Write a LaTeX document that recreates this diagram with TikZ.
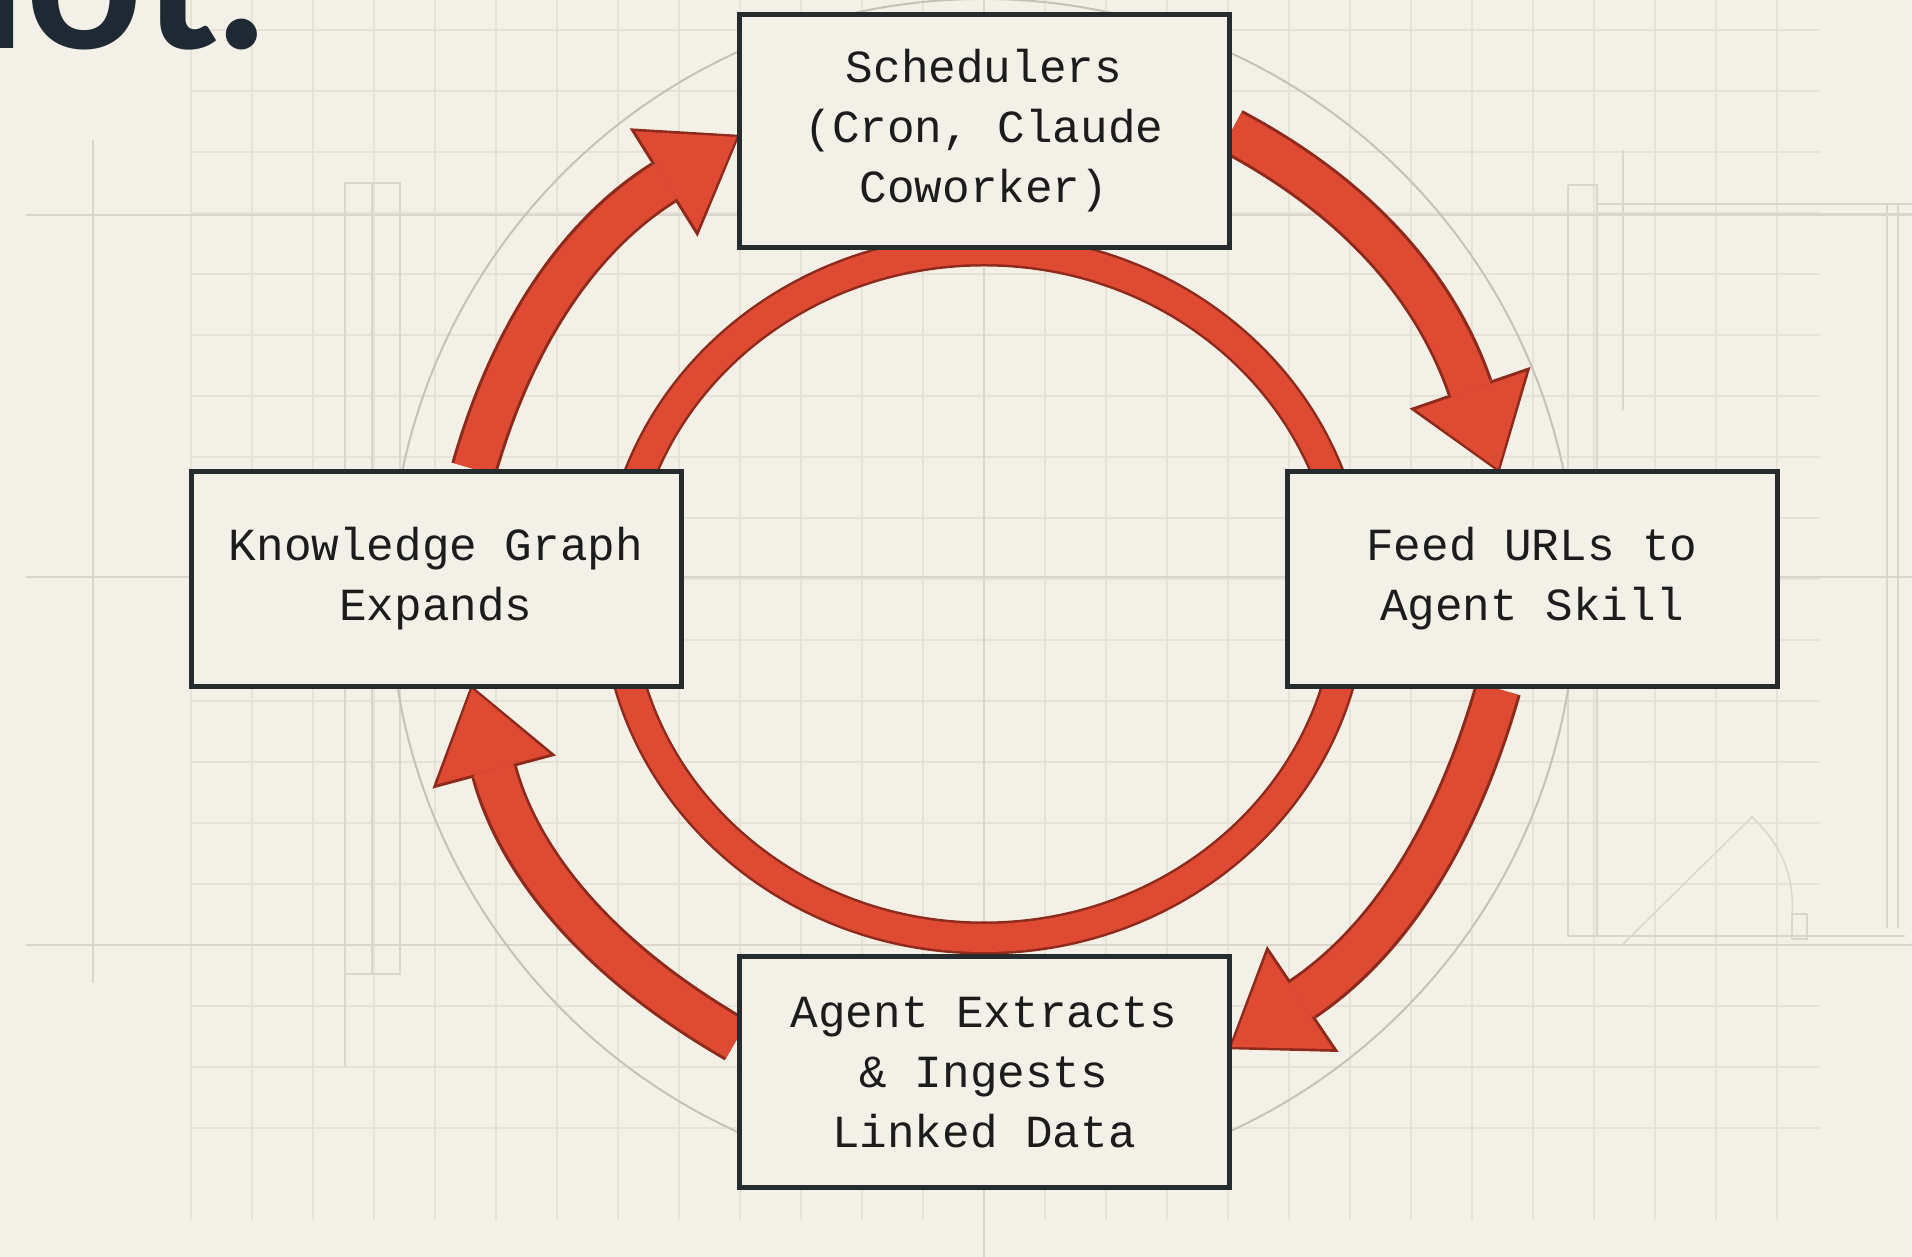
\documentclass[tikz,border=0pt]{standalone}
\usepackage{fontspec}
\setmonofont{Liberation Mono}
\newfontfamily\headfont{Lato}
\usetikzlibrary{arrows.meta}

\definecolor{paper}{HTML}{F3F1E7}
\definecolor{gridc}{HTML}{E6E2D7}
\definecolor{guidec}{HTML}{DAD6CB}
\definecolor{ringgray}{HTML}{C6C2B8}
\definecolor{flame}{HTML}{DF4A33}
\definecolor{rimred}{HTML}{8E2A1C}
\definecolor{boxline}{HTML}{262B2E}
\definecolor{ink}{HTML}{1C1C1C}
\definecolor{headink}{HTML}{1F2933}

\pgfdeclarelayer{sheet}
\pgfdeclarelayer{back}
\pgfsetlayers{sheet,back,main}

\tikzset{
  stage/.style={draw=boxline,line width=5pt,fill=paper,minimum width=490pt,inner sep=0pt,
    align=center,text=ink,font=\ttfamily\fontsize{46}{60}\selectfont},
  rim/.style={draw=rimred,line width=47pt,shorten >=-4pt,
    -{Triangle[width=128pt,length=90pt,line width=0pt]}},
  body/.style={draw=flame,line width=41pt,
    -{Triangle[width=117pt,length=83pt,line width=0pt]}},
  gridline/.style={draw=gridc,line width=1.5pt},
  guide/.style={draw=guidec,line width=1.5pt}
}

\begin{document}
\begin{tikzpicture}[x=1pt,y=1pt]

\useasboundingbox (0,0) rectangle (1912,1257);

\begin{pgfonlayer}{sheet}
\fill[paper] (0,0) rectangle (1912,1257);

% le quadrillage
\foreach \gx in {-13,...,13}
  \draw[gridline] ({984+61*\gx},37)--({984+61*\gx},1257);
\foreach \gy in {-9,...,9}
  \draw[gridline] (191,{678+61*\gy})--(1820,{678+61*\gy});

% traits de construction
\draw[guide] (26,1042)--(1912,1042);
\draw[guide] (26,680)--(1912,680);
\draw[guide] (26,312)--(1912,312);
\draw[guide] (93,1117)--(93,274);
\draw[guide] (984,0)--(984,1257);
\draw[guide] (345,1074)--(345,191);
\draw[guide] (372,1074)--(372,283);
\draw[guide] (345,1074)--(400,1074)--(400,283)--(345,283);
\draw[guide] (1568,1072)--(1568,321)--(1905,321);
\draw[guide] (1568,1072)--(1597,1072)--(1597,321);
\draw[guide] (1597,1053)--(1912,1053);
\draw[guide] (1597,1043)--(1912,1043);
\draw[guide] (1887,1053)--(1887,329);
\draw[guide] (1898,1053)--(1898,329);
\draw[guide] (1623,1107)--(1623,847);
\draw[guide] (1623,313)--(1752,440) to[bend left=25] (1792,337);
\draw[guide] (1792,343) rectangle (1807,318);

\draw[ringgray,line width=2pt] (983,665) circle [radius=593pt];
\end{pgfonlayer}

\node[anchor=base east,inner sep=0pt,text=headink,
  font=\headfont\bfseries\fontsize{205}{205}\selectfont] (head) at (266,1208) {not.};

% les etapes
\node[stage,minimum height=233pt] (sched) at (984,1126) {Schedulers\\(Cron, Claude\\Coworker)};
\node[stage,minimum height=215pt] (feed) at (1532,678) {Feed URLs to\\Agent Skill};
\node[stage,minimum height=231pt] (ingest) at (984,185) {Agent Extracts\\\& Ingests\\Linked Data};
\node[stage,minimum height=215pt] (graph) at (436,678) {Knowledge Graph\\Expands};

\begin{pgfonlayer}{back}
\draw[rimred,line width=33pt] (984,663) ellipse [x radius=367pt,y radius=344pt];
\draw[flame,line width=28pt] (984,663) ellipse [x radius=367pt,y radius=344pt];
\foreach \pass in {rim,body} {
  \draw[\pass] (sched.east) to[out=-28,in=109] ([xshift=-34pt]feed.north);
  \draw[\pass] ([xshift=-34pt]feed.south) to[out=-106,in=34] ([yshift=25pt]ingest.east);
  \draw[\pass] ([yshift=32pt]ingest.west) to[out=150,in=-75] ([xshift=36pt]graph.south);
  \draw[\pass] ([xshift=38pt]graph.north) to[out=74,in=-148] ([yshift=-6pt]sched.west);
}
\end{pgfonlayer}

\end{tikzpicture}
\end{document}
